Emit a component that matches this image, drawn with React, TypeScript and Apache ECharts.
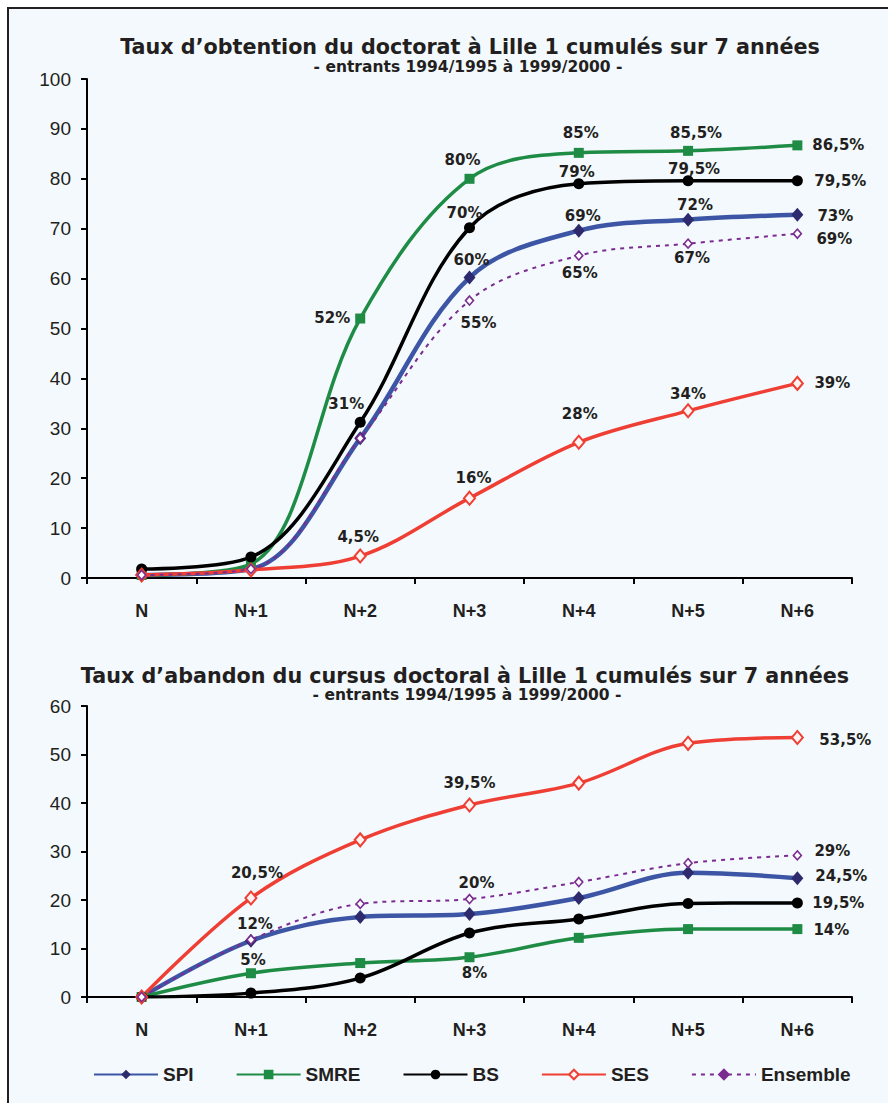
import React, { useEffect, useRef } from "react";
import * as echarts from "echarts";

const categories = ["N", "N+1", "N+2", "N+3", "N+4", "N+5", "N+6"];
const seriesNames = ["SPI", "SMRE", "BS", "SES", "Ensemble"];
const yTicksTop = [0, 100, 10];
const yTicksBottom = [0, 60, 10];

// Taux d'obtention (top)
const obtSPI = [0.6, 1.8, 28, 60.2, 69.6, 71.8, 72.8];
const obtSMRE = [0.6, 2.8, 52, 80, 85.2, 85.6, 86.7];
const obtBS = [1.8, 4.2, 31.2, 70.2, 79, 79.6, 79.6];
const obtSES = [0.6, 1.6, 4.4, 16, 27.2, 33.5, 39];
const obtEns = [0.6, 1.8, 28, 55.6, 64.6, 67, 69];

const obtSPILabels = ["", "", "", "60%", "69%", "72%", "73%"];
const obtSMRELabels = ["", "", "52%", "80%", "85%", "85,5%", "86,5%"];
const obtBSLabels = ["", "", "31%", "70%", "79%", "79,5%", "79,5%"];
const obtSESLabels = ["", "", "4,5%", "16%", "28%", "34%", "39%"];
const obtEnsLabels = ["", "", "", "55%", "65%", "67%", "69%"];

// Taux d'abandon (bottom)
const abSPI = [0, 11.6, 16.5, 17.1, 20.4, 25.6, 24.5];
const abSMRE = [0, 4.9, 7, 8.2, 12.2, 14, 14];
const abBS = [0, 0.8, 3.9, 13.2, 16.1, 19.3, 19.4];
const abSES = [0, 20.4, 32.4, 39.6, 44.1, 52.3, 53.5];
const abEns = [0, 11.8, 19.2, 20.2, 23.7, 27.6, 29.2];

const abSPILabels = ["", "", "", "", "", "", "24,5%"];
const abSMRELabels = ["", "5%", "", "8%", "", "", "14%"];
const abBSLabels = ["", "", "", "", "", "", "19,5%"];
const abSESLabels = ["", "20,5%", "", "39,5%", "", "", "53,5%"];
const abEnsLabels = ["", "12%", "", "20%", "", "", "29%"];

// label placement (offset of label centre from the point), layout only
const obtOffsets: Record<string, number[][]> = {
  SPI: [[0, 0], [0, 0], [0, 0], [2, -18], [4, -15], [7, -15], [38, 1]],
  SMRE: [[0, 0], [0, 0], [-28, -1], [-7, -19], [2, -20], [8, -18], [41, 0]],
  BS: [[0, 0], [0, 0], [-14, -18], [-5, -15], [-2, -12], [6, -12], [43, 0]],
  SES: [[0, 0], [0, 0], [-2, -19], [4, -20], [1, -28], [0, -17], [35, 0]],
  Ensemble: [[0, 0], [0, 0], [0, 0], [9, 22], [1, 17], [4, 14], [37, 5]],
};
const abOffsets: Record<string, number[][]> = {
  SPI: [[0, 0], [0, 0], [0, 0], [0, 0], [0, 0], [0, 0], [44, -2]],
  SMRE: [[0, 0], [2, -13], [0, 0], [5, 16], [0, 0], [0, 0], [34, 1]],
  BS: [[0, 0], [0, 0], [0, 0], [0, 0], [0, 0], [0, 0], [41, 0]],
  SES: [[0, 0], [6, -25], [0, 0], [0, -22], [0, 0], [0, 0], [48, 2]],
  Ensemble: [[0, 0], [4, -16], [0, 0], [7, -16], [0, 0], [0, 0], [35, -4]],
};

const TXT = "#231F20";
const styles: Record<string, any> = {
  SPI: {
    lineStyle: { color: "#3C56A5", width: 4.5 },
    symbol: "diamond",
    symbolSize: [12, 14],
    itemStyle: { color: "#2E2A6E", borderColor: "#2E2A6E", borderWidth: 0 },
  },
  SMRE: {
    lineStyle: { color: "#1E8C45", width: 3.5 },
    symbol: "rect",
    symbolSize: 10,
    itemStyle: { color: "#1E8C45" },
  },
  BS: {
    lineStyle: { color: "#000000", width: 3.5 },
    symbol: "circle",
    symbolSize: 11,
    itemStyle: { color: "#000000" },
  },
  SES: {
    lineStyle: { color: "#EF3E33", width: 3.5 },
    symbol: "diamond",
    symbolSize: [11, 13],
    itemStyle: { color: "#FFF4F2", borderColor: "#EF3E33", borderWidth: 2 },
  },
  Ensemble: {
    lineStyle: { color: "#7B2C90", width: 2, type: [4, 5] },
    symbol: "diamond",
    symbolSize: [8, 9],
    itemStyle: { color: "#FFFFFF", borderColor: "#7B2C90", borderWidth: 1.6 },
  },
};

function buildData(values: number[], texts: string[], offsets: number[][]) {
  return values.map((v, i) => {
    const t = texts[i];
    if (!t) return { value: v, label: { show: false } };
    return {
      value: v,
      label: {
        show: true,
        formatter: t,
        position: "inside",
        offset: offsets[i],
        align: "center",
        verticalAlign: "middle",
        color: TXT,
        fontFamily: "DejaVu Sans",
        fontWeight: "bold",
        fontSize: 15,
      },
    };
  });
}

function makeSeries(name: string, values: number[], texts: string[], offsets: number[][], idx: number) {
  const s = styles[name];
  return {
    type: "line",
    name,
    xAxisIndex: idx,
    yAxisIndex: idx,
    smooth: 0.35,
    data: buildData(values, texts, offsets),
    lineStyle: s.lineStyle,
    symbol: s.symbol,
    symbolSize: s.symbolSize,
    showAllSymbol: true,
    itemStyle: s.itemStyle,
    emphasis: { disabled: true },
  };
}

function axisX(idx: number) {
  return {
    type: "category",
    gridIndex: idx,
    data: categories,
    boundaryGap: true,
    axisLine: { show: true, lineStyle: { color: "#000", width: 2 } },
    axisTick: { show: true, length: 6, lineStyle: { color: "#000", width: 2 } },
    axisLabel: {
      margin: 24,
      color: TXT,
      fontFamily: "Liberation Sans",
      fontWeight: "bold",
      fontSize: 18,
    },
    splitLine: { show: false },
  };
}

function axisY(idx: number, t: number[]) {
  return {
    type: "value",
    gridIndex: idx,
    min: t[0],
    max: t[1],
    interval: t[2],
    axisLine: { show: true, lineStyle: { color: "#000", width: 2 } },
    axisTick: { show: true, length: 6, lineStyle: { color: "#000", width: 2 } },
    axisLabel: {
      margin: 16,
      color: TXT,
      fontFamily: "Liberation Sans",
      fontSize: 19,
    },
    splitLine: { show: false },
  };
}

function titleText(x: number, y: number, text: string, size: number) {
  return {
    type: "text",
    x,
    y,
    z: 10,
    style: {
      text,
      fill: TXT,
      fontFamily: "DejaVu Sans",
      fontWeight: "bold",
      fontSize: size,
      align: "center",
      verticalAlign: "middle",
    },
  };
}

export default function App() {
  const ref = useRef<HTMLDivElement>(null);
  useEffect(() => {
    if (!ref.current) return;
    const chart = echarts.init(ref.current, null, { renderer: "svg" });
    const topVals = [obtSPI, obtSMRE, obtBS, obtSES, obtEns];
    const topLabels = [obtSPILabels, obtSMRELabels, obtBSLabels, obtSESLabels, obtEnsLabels];
    const botVals = [abSPI, abSMRE, abBS, abSES, abEns];
    const botLabels = [abSPILabels, abSMRELabels, abBSLabels, abSESLabels, abEnsLabels];
    const series: any[] = [];
    seriesNames.forEach((n, i) => series.push(makeSeries(n, topVals[i], topLabels[i], obtOffsets[n], 0)));
    seriesNames.forEach((n, i) => series.push(makeSeries(n, botVals[i], botLabels[i], abOffsets[n], 1)));

    chart.setOption({
      animation: false,
      backgroundColor: "#FFFFFF",
      graphic: [
        {
          type: "rect",
          z: -10,
          shape: { x: 8, y: 8, width: 900, height: 1200 },
          style: { fill: "#F3F9FD", stroke: "#231F20", lineWidth: 2 },
          silent: true,
        },
        titleText(470, 47, "Taux d’obtention du doctorat à Lille 1 cumulés sur 7 années", 20.7),
        titleText(468, 67, "- entrants 1994/1995 à 1999/2000 -", 15.5),
        titleText(465, 676, "Taux d’abandon du cursus doctoral à Lille 1 cumulés sur 7 années", 20.7),
        titleText(467, 695, "- entrants 1994/1995 à 1999/2000 -", 15.5),
      ],
      grid: [
        { left: 87, right: 36, top: 79, height: 499 },
        { left: 87, right: 36, top: 706, height: 291 },
      ],
      xAxis: [axisX(0), axisX(1)],
      yAxis: [axisY(0, yTicksTop), axisY(1, yTicksBottom)],
      legend: {
        data: [
          { name: "SPI" },
          { name: "SMRE" },
          { name: "BS" },
          { name: "SES" },
          { name: "Ensemble", itemStyle: { color: "#7B2C90", borderColor: "#7B2C90" } },
        ],
        left: 88,
        top: 1060,
        itemWidth: 64,
        itemHeight: 12,
        itemGap: 42,
        selectedMode: false,
        textStyle: {
          color: TXT,
          fontFamily: "Liberation Sans",
          fontWeight: "bold",
          fontSize: 19,
        },
      },
      series,
    });
    return () => chart.dispose();
  }, []);
  return (
    <div
      ref={ref}
      style={{ position: "absolute", left: 0, top: 0, width: 888, height: 1103 }}
    />
  );
}
